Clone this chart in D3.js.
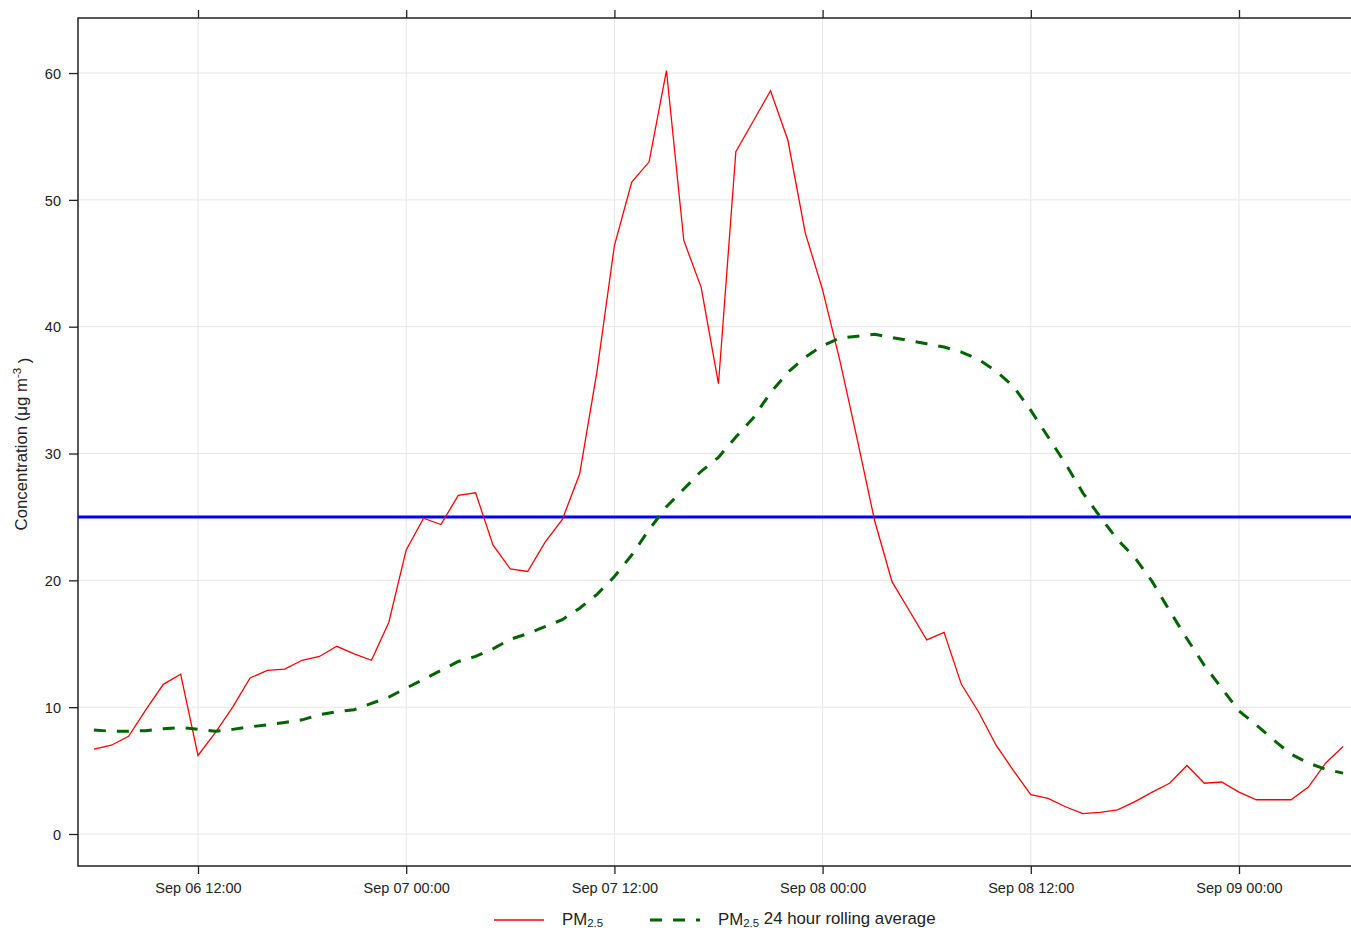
<!DOCTYPE html>
<html>
<head>
<meta charset="utf-8">
<script src="https://cdn.jsdelivr.net/npm/d3@7"></script>
<style>
  body { margin: 0; background: #fff; }
  svg { display: block; font-family: "Liberation Sans", Arial, sans-serif; }
</style>
</head>
<body>
<svg id="chart" width="1351" height="928"></svg>
<script>
// ---- data ----
const startTime = new Date(Date.UTC(2015, 8, 6, 6, 0)); // Sep 06 06:00, hourly
const pm25 = [
  6.7, 7.0, 7.7, 9.8, 11.8, 12.6, 6.2, 8.0, 10.0, 12.3,
  12.9, 13.0, 13.7, 14.0, 14.8, 14.2, 13.7, 16.7, 22.4, 24.9,
  24.4, 26.7, 26.9, 22.8, 20.9, 20.7, 23.0, 24.8, 28.4, 36.5,
  46.4, 51.4, 53.0, 60.2, 46.8, 43.1, 35.5, 53.8, 56.2, 58.6,
  54.7, 47.4, 42.9, 37.3, 31.1, 24.7, 19.9, 17.6, 15.3, 15.9,
  11.8, 9.6, 7.0, 5.0, 3.1, 2.8, 2.15, 1.6, 1.7, 1.9,
  2.55, 3.3, 4.0, 5.4, 4.0, 4.1, 3.3, 2.7, 2.7, 2.7,
  3.7, 5.6, 6.9
];
const rollingAvg = [
  8.2, 8.1, 8.1, 8.15, 8.3, 8.4, 8.25, 8.1, 8.25, 8.45,
  8.6, 8.8, 9.0, 9.4, 9.65, 9.8, 10.3, 10.8, 11.5, 12.2,
  12.9, 13.6, 14.0, 14.6, 15.35, 15.8, 16.35, 16.9, 17.8, 18.9,
  20.3, 22.0, 24.0, 25.8, 27.2, 28.6, 29.7, 31.3, 32.8, 34.8,
  36.4, 37.6, 38.5, 39.1, 39.25, 39.4, 39.15, 38.9, 38.65, 38.4,
  38.0, 37.4, 36.5, 35.3, 33.4, 31.3, 29.2, 26.9, 25.0, 23.2,
  21.8, 19.9, 17.6, 15.4, 13.3, 11.5, 9.7, 8.6, 7.4, 6.3,
  5.6, 5.1, 4.8
];
const limitValue = 25;
const yTicks = [0, 10, 20, 30, 40, 50, 60];
const xTickDates = [
  new Date(Date.UTC(2015, 8, 6, 12)),
  new Date(Date.UTC(2015, 8, 7, 0)),
  new Date(Date.UTC(2015, 8, 7, 12)),
  new Date(Date.UTC(2015, 8, 8, 0)),
  new Date(Date.UTC(2015, 8, 8, 12)),
  new Date(Date.UTC(2015, 8, 9, 0))
];
const xTickLabels = ["Sep 06 12:00", "Sep 07 00:00", "Sep 07 12:00", "Sep 08 00:00", "Sep 08 12:00", "Sep 09 00:00"];

const times = pm25.map((_, i) => d3.utcHour.offset(startTime, i));

// ---- layout ----
const svg = d3.select("#chart");
const pL = 78, pR = 1359, pT = 18, pB = 866;

const x = d3.scaleUtc()
  .domain([new Date(Date.UTC(2015, 8, 6, 5, 5)), new Date(Date.UTC(2015, 8, 9, 6, 55))])
  .range([pL, pR]);
const y = d3.scaleLinear()
  .domain([-2.523, 64.34])
  .range([pB, pT]);

// clip
svg.append("defs").append("clipPath").attr("id", "clip")
  .append("rect").attr("x", pL).attr("y", pT).attr("width", pR - pL).attr("height", pB - pT);

// grid
const grid = svg.append("g");
grid.selectAll("line.gy").data(yTicks).join("line").attr("class", "gy")
  .attr("x1", pL).attr("x2", pR)
  .attr("y1", d => y(d)).attr("y2", d => y(d))
  .attr("stroke", "#e6e6e6").attr("stroke-width", 1);
grid.selectAll("line.gx").data(xTickDates).join("line").attr("class", "gx")
  .attr("x1", d => x(d)).attr("x2", d => x(d))
  .attr("y1", pT).attr("y2", pB)
  .attr("stroke", "#e6e6e6").attr("stroke-width", 1);

// axes
const fmt = d => xTickLabels[xTickDates.findIndex(t => +t === +d)];
const axB = svg.append("g").attr("transform", `translate(0,${pB})`)
  .call(d3.axisBottom(x).tickValues(xTickDates).tickFormat(fmt).tickSize(8).tickSizeOuter(0));
const axT = svg.append("g").attr("transform", `translate(0,${pT})`)
  .call(d3.axisTop(x).tickValues(xTickDates).tickFormat("").tickSize(8).tickSizeOuter(0));
const axL = svg.append("g").attr("transform", `translate(${pL},0)`)
  .call(d3.axisLeft(y).tickValues(yTicks).tickFormat(d3.format("d")).tickSize(9).tickSizeOuter(0));
[axB, axT, axL].forEach(a => {
  a.select(".domain").remove();
  a.selectAll(".tick line").attr("stroke", "#222").attr("stroke-width", 1.3);
  a.selectAll(".tick text").attr("fill", "#222").style("font-size", "14.5px")
    .style("font-family", '"Liberation Sans", Arial, sans-serif');
});
axB.selectAll(".tick text").attr("y", 17).attr("dy", "0.71em");
axL.selectAll(".tick text").attr("x", -17).attr("dy", "0.36em");

// box (left, top, bottom)
svg.append("path")
  .attr("d", `M${pR},${pT}H${pL}V${pB}H${pR}`)
  .attr("fill", "none").attr("stroke", "#222").attr("stroke-width", 1.5);

// series
const plot = svg.append("g").attr("clip-path", "url(#clip)");
plot.append("line")
  .attr("x1", pL).attr("x2", pR)
  .attr("y1", y(limitValue)).attr("y2", y(limitValue))
  .attr("stroke", "#0000ff").attr("stroke-width", 3);

const line = d3.line().x((d, i) => x(times[i])).y(d => y(d));
plot.append("path").datum(pm25).attr("d", line)
  .attr("fill", "none").attr("stroke", "#ff0000").attr("stroke-width", 1.3);
plot.append("path").datum(rollingAvg).attr("d", line)
  .attr("fill", "none").attr("stroke", "#006400").attr("stroke-width", 3)
  .attr("stroke-dasharray", "12,11");

// y label
const yl = svg.append("text")
  .attr("transform", "translate(27,444) rotate(-90)")
  .attr("text-anchor", "middle")
  .attr("fill", "#222")
  .style("font-size", "16.8px");
yl.append("tspan").text("Concentration (μg m");
yl.append("tspan").attr("dy", "-0.5em").style("font-size", "11.5px").text("-3");
yl.append("tspan").attr("dy", "0.5em").text(" )");

// legend
const lg = svg.append("g");
lg.append("line").attr("x1", 494).attr("x2", 544).attr("y1", 920).attr("y2", 920)
  .attr("stroke", "#ff0000").attr("stroke-width", 1.3);
const t1 = lg.append("text").attr("x", 562).attr("y", 925).attr("fill", "#222").style("font-size", "16.8px");
t1.append("tspan").text("PM");
t1.append("tspan").attr("dy", "0.2em").style("font-size", "11.5px").text("2.5");

lg.append("line").attr("x1", 650).attr("x2", 700).attr("y1", 920).attr("y2", 920)
  .attr("stroke", "#006400").attr("stroke-width", 3).attr("stroke-dasharray", "12,11");
const t2 = lg.append("text").attr("x", 718).attr("y", 925).attr("fill", "#222").style("font-size", "16.8px");
t2.append("tspan").text("PM");
t2.append("tspan").attr("dy", "0.2em").style("font-size", "11.5px").text("2.5");
t2.append("tspan").attr("dy", "-0.2em").text(" 24 hour rolling average");
</script>
</body>
</html>
